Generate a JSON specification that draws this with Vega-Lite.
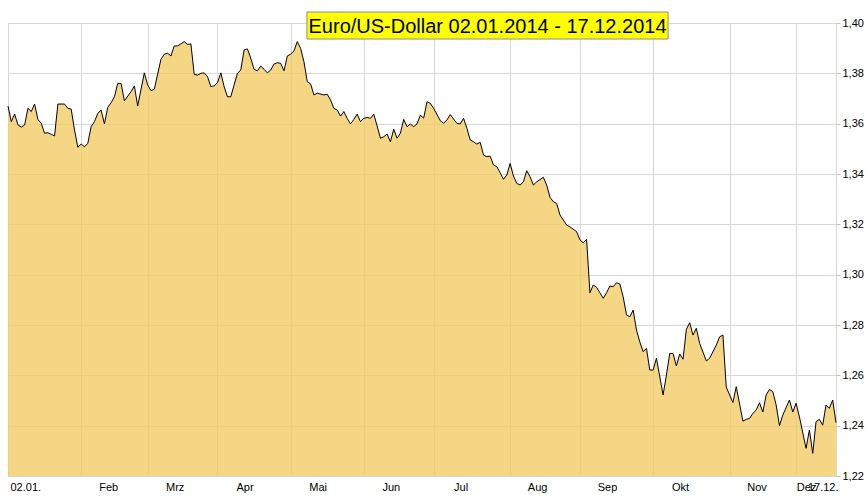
{
  "$schema": "https://vega.github.io/schema/vega-lite/v6.json",
  "width": 828,
  "height": 453,
  "autosize": {"type": "none"},
  "padding": {"left": 8, "top": 23, "right": 31, "bottom": 22},
  "background": "white",
  "config": {"view": {"stroke": "#C4C4C4", "strokeWidth": 1}, "font": "Liberation Sans"},
  "datasets": {
    "eurusd": [
      {"day":0,"rate":1.3670},{"day":1,"rate":1.3608},{"day":2,"rate":1.3638},{"day":3,"rate":1.3595},{"day":4,"rate":1.3586},
      {"day":5,"rate":1.3595},{"day":6,"rate":1.3661},{"day":7,"rate":1.3648},{"day":8,"rate":1.3678},{"day":9,"rate":1.3617},
      {"day":10,"rate":1.3601},{"day":11,"rate":1.3562},{"day":12,"rate":1.3564},{"day":13,"rate":1.3558},{"day":14,"rate":1.3551},
      {"day":15,"rate":1.3678},{"day":17,"rate":1.3678},{"day":18,"rate":1.3661},{"day":19,"rate":1.3658},{"day":20,"rate":1.3575},
      {"day":21,"rate":1.3506},{"day":22,"rate":1.3519},{"day":23,"rate":1.3508},{"day":24,"rate":1.3522},{"day":25,"rate":1.3588},
      {"day":26,"rate":1.3608},{"day":27,"rate":1.3641},{"day":28,"rate":1.3654},{"day":29,"rate":1.3599},{"day":30,"rate":1.3665},
      {"day":31,"rate":1.3683},{"day":32,"rate":1.3707},{"day":33,"rate":1.3760},{"day":34,"rate":1.3760},{"day":35,"rate":1.3691},
      {"day":37,"rate":1.3727},{"day":38,"rate":1.3750},{"day":39,"rate":1.3670},{"day":41,"rate":1.3802},{"day":42,"rate":1.3754},
      {"day":43,"rate":1.3731},{"day":44,"rate":1.3737},{"day":46,"rate":1.3856},{"day":47,"rate":1.3876},{"day":48,"rate":1.3880},
      {"day":49,"rate":1.3869},{"day":50,"rate":1.3909},{"day":51,"rate":1.3909},{"day":52,"rate":1.3917},{"day":53,"rate":1.3926},
      {"day":54,"rate":1.3915},{"day":55,"rate":1.3917},{"day":56,"rate":1.3796},{"day":57,"rate":1.3793},{"day":58,"rate":1.3800},
      {"day":59,"rate":1.3802},{"day":60,"rate":1.3787},{"day":61,"rate":1.3747},{"day":62,"rate":1.3750},{"day":63,"rate":1.3763},
      {"day":64,"rate":1.3802},{"day":65,"rate":1.3747},{"day":66,"rate":1.3707},{"day":67,"rate":1.3707},{"day":68,"rate":1.3754},
      {"day":69,"rate":1.3800},{"day":70,"rate":1.3813},{"day":71,"rate":1.3893},{"day":72,"rate":1.3897},{"day":73,"rate":1.3860},
      {"day":74,"rate":1.3816},{"day":75,"rate":1.3810},{"day":76,"rate":1.3829},{"day":77,"rate":1.3816},{"day":78,"rate":1.3802},
      {"day":79,"rate":1.3813},{"day":80,"rate":1.3837},{"day":81,"rate":1.3842},{"day":82,"rate":1.3840},{"day":83,"rate":1.3810},
      {"day":84,"rate":1.3869},{"day":85,"rate":1.3876},{"day":86,"rate":1.3889},{"day":87,"rate":1.3926},{"day":88,"rate":1.3899},
      {"day":89,"rate":1.3846},{"day":90,"rate":1.3767},{"day":91,"rate":1.3758},{"day":92,"rate":1.3714},{"day":93,"rate":1.3721},
      {"day":95,"rate":1.3714},{"day":96,"rate":1.3717},{"day":97,"rate":1.3694},{"day":98,"rate":1.3661},{"day":99,"rate":1.3654},
      {"day":100,"rate":1.3630},{"day":101,"rate":1.3648},{"day":102,"rate":1.3621},{"day":103,"rate":1.3599},{"day":104,"rate":1.3617},
      {"day":105,"rate":1.3638},{"day":106,"rate":1.3608},{"day":107,"rate":1.3621},{"day":108,"rate":1.3625},{"day":109,"rate":1.3621},
      {"day":110,"rate":1.3638},{"day":111,"rate":1.3591},{"day":112,"rate":1.3542},{"day":113,"rate":1.3548},{"day":114,"rate":1.3559},
      {"day":115,"rate":1.3528},{"day":116,"rate":1.3578},{"day":117,"rate":1.3542},{"day":118,"rate":1.3562},{"day":119,"rate":1.3617},
      {"day":120,"rate":1.3588},{"day":121,"rate":1.3599},{"day":122,"rate":1.3588},{"day":123,"rate":1.3599},{"day":124,"rate":1.3634},
      {"day":125,"rate":1.3622},{"day":126,"rate":1.3687},{"day":127,"rate":1.3681},{"day":128,"rate":1.3661},{"day":130,"rate":1.3612},
      {"day":131,"rate":1.3601},{"day":132,"rate":1.3615},{"day":133,"rate":1.3636},{"day":135,"rate":1.3601},{"day":136,"rate":1.3599},
      {"day":137,"rate":1.3621},{"day":138,"rate":1.3582},{"day":139,"rate":1.3535},{"day":140,"rate":1.3528},{"day":141,"rate":1.3519},
      {"day":142,"rate":1.3526},{"day":143,"rate":1.3475},{"day":144,"rate":1.3469},{"day":145,"rate":1.3471},{"day":146,"rate":1.3436},
      {"day":147,"rate":1.3429},{"day":148,"rate":1.3405},{"day":149,"rate":1.3379},{"day":150,"rate":1.3396},{"day":151,"rate":1.3442},
      {"day":152,"rate":1.3392},{"day":153,"rate":1.3363},{"day":154,"rate":1.3356},{"day":155,"rate":1.3369},{"day":156,"rate":1.3413},
      {"day":157,"rate":1.3389},{"day":158,"rate":1.3356},{"day":159,"rate":1.3369},{"day":161,"rate":1.3387},{"day":162,"rate":1.3356},
      {"day":163,"rate":1.3307},{"day":164,"rate":1.3290},{"day":165,"rate":1.3283},{"day":166,"rate":1.3237},{"day":168,"rate":1.3197},
      {"day":169,"rate":1.3190},{"day":171,"rate":1.3171},{"day":172,"rate":1.3138},{"day":173,"rate":1.3127},{"day":174,"rate":1.3140},
      {"day":175,"rate":1.2928},{"day":176,"rate":1.2959},{"day":177,"rate":1.2950},{"day":178,"rate":1.2928},{"day":179,"rate":1.2906},
      {"day":180,"rate":1.2928},{"day":181,"rate":1.2955},{"day":182,"rate":1.2952},{"day":183,"rate":1.2968},{"day":184,"rate":1.2963},
      {"day":185,"rate":1.2912},{"day":186,"rate":1.2840},{"day":187,"rate":1.2833},{"day":188,"rate":1.2859},{"day":189,"rate":1.2780},
      {"day":190,"rate":1.2733},{"day":191,"rate":1.2694},{"day":192,"rate":1.2707},{"day":193,"rate":1.2621},{"day":194,"rate":1.2621},
      {"day":195,"rate":1.2668},{"day":197,"rate":1.2522},{"day":198,"rate":1.2601},{"day":199,"rate":1.2687},{"day":200,"rate":1.2687},
      {"day":201,"rate":1.2637},{"day":202,"rate":1.2685},{"day":203,"rate":1.2664},{"day":204,"rate":1.2783},{"day":205,"rate":1.2809},
      {"day":206,"rate":1.2760},{"day":207,"rate":1.2787},{"day":208,"rate":1.2727},{"day":210,"rate":1.2657},{"day":211,"rate":1.2668},
      {"day":213,"rate":1.2720},{"day":214,"rate":1.2753},{"day":215,"rate":1.2760},{"day":216,"rate":1.2553},{"day":218,"rate":1.2492},
      {"day":219,"rate":1.2555},{"day":221,"rate":1.2418},{"day":222,"rate":1.2425},{"day":223,"rate":1.2429},{"day":224,"rate":1.2449},
      {"day":225,"rate":1.2462},{"day":226,"rate":1.2491},{"day":227,"rate":1.2454},{"day":228,"rate":1.2522},{"day":229,"rate":1.2544},
      {"day":230,"rate":1.2535},{"day":231,"rate":1.2482},{"day":232,"rate":1.2400},{"day":233,"rate":1.2442},{"day":235,"rate":1.2502},
      {"day":236,"rate":1.2454},{"day":237,"rate":1.2489},{"day":238,"rate":1.2435},{"day":240,"rate":1.2310},{"day":241,"rate":1.2383},
      {"day":242,"rate":1.2290},{"day":243,"rate":1.2416},{"day":244,"rate":1.2425},{"day":245,"rate":1.2402},{"day":246,"rate":1.2482},
      {"day":247,"rate":1.2469},{"day":248,"rate":1.2502},{"day":249,"rate":1.2412}
    ],
    "heading": [{"title": "Euro/US-Dollar 02.01.2014 - 17.12.2014"}]
  },
  "layer": [
    {
      "data": {"name": "eurusd"},
      "mark": {"type": "area", "fill": "#F2CC66", "fillOpacity": 0.8},
      "encoding": {
        "x": {
          "field": "day", "type": "quantitative",
          "scale": {"domain": [0, 249], "nice": false, "zero": false},
          "axis": {
            "title": null,
            "values": [0, 22, 42, 63, 85, 107, 128, 151, 172, 194, 217, 237, 249],
            "labelExpr": "['02.01.','Feb','Mrz','Apr','Mai','Jun','Jul','Aug','Sep','Okt','Nov','Dez','17.12.'][indexof([0,22,42,63,85,107,128,151,172,194,217,237,249], datum.value)]",
            "grid": true, "gridColor": "#D8D8D8", "gridWidth": 1,
            "domain": false, "ticks": false,
            "labelPadding": 5, "labelFontSize": 11, "labelColor": "#000000", "labelFont": "Liberation Sans",
            "labelOverlap": false, "labelFlush": false, "labelBound": false,
            "labelAlign": {"condition": [{"test": "datum.value == 0", "value": "left"}, {"test": "datum.value == 249", "value": "right"}], "value": "center"},
            "labelOffset": {"condition": [{"test": "datum.value == 0 || datum.value == 249", "value": 2}, {"test": "datum.value == 237", "value": 10}], "value": 27}
          }
        },
        "y": {
          "field": "rate", "type": "quantitative",
          "scale": {"domain": [1.22, 1.40], "nice": false, "zero": false},
          "axis": {
            "title": null, "orient": "right",
            "values": [1.22, 1.24, 1.26, 1.28, 1.30, 1.32, 1.34, 1.36, 1.38, 1.40],
            "labelExpr": "replace(format(datum.value, '.2f'), '.', ',')",
            "grid": true, "gridColor": "#D8D8D8", "gridWidth": 1,
            "domain": false, "ticks": true, "tickSize": 4, "tickColor": "#C4C4C4",
            "labelPadding": 2, "labelFontSize": 11, "labelColor": "#000000", "labelFont": "Liberation Sans",
            "labelOverlap": false, "labelFlush": false, "labelBound": false
          }
        },
        "y2": {"datum": 1.22}
      }
    },
    {
      "data": {"name": "eurusd"},
      "mark": {"type": "line", "color": "#000000", "strokeWidth": 1},
      "encoding": {
        "x": {"field": "day", "type": "quantitative"},
        "y": {"field": "rate", "type": "quantitative"}
      }
    },
    {
      "data": {"name": "heading"},
      "mark": {"type": "rect", "fill": "#FFFF00", "stroke": "#8C8C8C", "strokeWidth": 1},
      "encoding": {
        "x": {"datum": 89.9, "type": "quantitative"},
        "x2": {"datum": 198.5},
        "y": {"datum": 1.40437, "type": "quantitative"},
        "y2": {"datum": 1.39364}
      }
    },
    {
      "data": {"name": "heading"},
      "mark": {"type": "text", "fontSize": 20, "font": "Liberation Sans", "baseline": "alphabetic", "align": "center", "color": "#000000"},
      "encoding": {
        "x": {"datum": 144.2, "type": "quantitative"},
        "y": {"datum": 1.39591, "type": "quantitative"},
        "text": {"field": "title"}
      }
    }
  ]
}
